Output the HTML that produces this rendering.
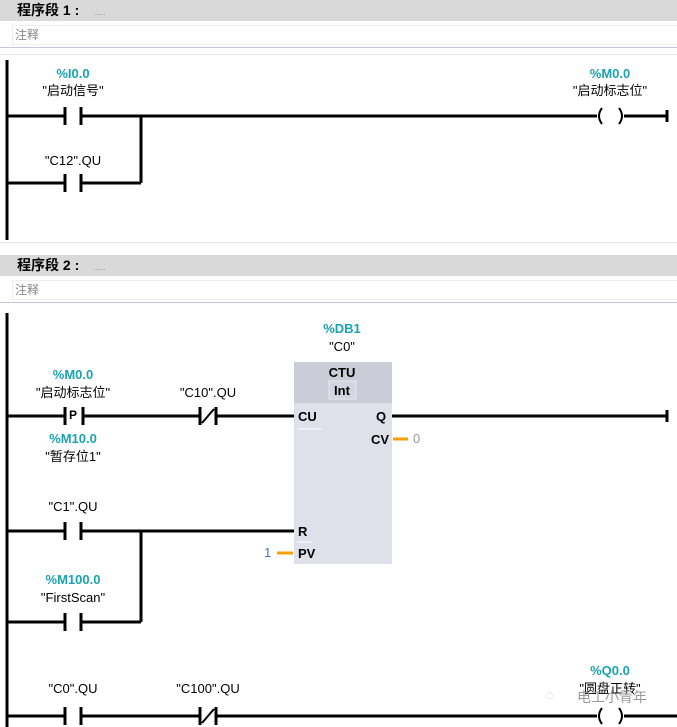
<!DOCTYPE html>
<html><head><meta charset="utf-8"><style>
body{margin:0;width:677px;height:727px;overflow:hidden;background:#fff;font-family:"Liberation Sans","Noto Sans CJK SC",sans-serif;position:relative}
.t{position:absolute;font-size:13px;color:#000;white-space:nowrap;transform:translateX(-50%);line-height:15px}
.a{position:absolute;font-size:13px;white-space:nowrap;line-height:15px}
.c{color:#1aa3b0;font-weight:bold}
.hd{position:absolute;left:0;width:677px;height:21px;background:#d9d9d9;font-size:14px;font-weight:bold;line-height:21px}
.cm{position:absolute;left:12px;width:665px;height:18px;border:1px solid #eee;border-right:none;font-size:12px;color:#888;line-height:18px;padding-left:2px}
</style></head><body>
<div class="hd" style="top:0"><span style="margin-left:17px">程序段 1 :</span><span style="margin-left:14px;color:#999;font-weight:normal;font-size:9px">.....</span></div>
<div class="cm" style="top:25px">注释</div>
<div style="position:absolute;left:0;top:47px;width:677px;height:1px;background:#c8c4e0"></div>
<div style="position:absolute;left:0;top:54px;width:677px;height:1px;background:#e6e6e6"></div>
<div style="position:absolute;left:0;top:242px;width:677px;height:1px;background:#e6e6e6"></div>
<div class="hd" style="top:255px"><span style="margin-left:17px">程序段 2 :</span><span style="margin-left:14px;color:#999;font-weight:normal;font-size:9px">.....</span></div>
<div class="cm" style="top:280px">注释</div>
<div style="position:absolute;left:0;top:302px;width:677px;height:1px;background:#c8c4e0"></div>

<svg width="677" height="727" style="position:absolute;left:0;top:0" xmlns="http://www.w3.org/2000/svg">
<g stroke="#000" stroke-width="3" fill="none">
<line x1="7" y1="60" x2="7" y2="240"/>
<line x1="7" y1="116" x2="65" y2="116"/><line x1="82" y1="116" x2="597" y2="116"/>
<line x1="7" y1="183" x2="65" y2="183"/><line x1="82" y1="183" x2="141" y2="183"/><line x1="141" y1="183" x2="141" y2="115"/>
<line x1="65" y1="107" x2="65" y2="125"/><line x1="81" y1="107" x2="81" y2="125"/>
<line x1="65" y1="174" x2="65" y2="192"/><line x1="81" y1="174" x2="81" y2="192"/>
<line x1="624" y1="116" x2="667" y2="116"/><line x1="667" y1="110" x2="667" y2="122"/>
<line x1="7" y1="313" x2="7" y2="727"/>
<line x1="7" y1="416" x2="65" y2="416"/><line x1="83" y1="416" x2="200" y2="416"/><line x1="217" y1="416" x2="294" y2="416"/>
<line x1="65" y1="407" x2="65" y2="425"/><line x1="83" y1="407" x2="83" y2="425"/>
<line x1="200" y1="407" x2="200" y2="425"/><line x1="216" y1="407" x2="216" y2="425"/>
<line x1="392" y1="416" x2="667" y2="416"/><line x1="667" y1="410" x2="667" y2="422"/>
<line x1="7" y1="531" x2="65" y2="531"/><line x1="82" y1="531" x2="294" y2="531"/>
<line x1="65" y1="522" x2="65" y2="540"/><line x1="81" y1="522" x2="81" y2="540"/>
<line x1="7" y1="622" x2="65" y2="622"/><line x1="82" y1="622" x2="141" y2="622"/><line x1="141" y1="622" x2="141" y2="530"/>
<line x1="65" y1="613" x2="65" y2="631"/><line x1="81" y1="613" x2="81" y2="631"/>
<line x1="7" y1="716" x2="65" y2="716"/><line x1="82" y1="716" x2="200" y2="716"/><line x1="217" y1="716" x2="597" y2="716"/>
<line x1="65" y1="707" x2="65" y2="725"/><line x1="81" y1="707" x2="81" y2="725"/>
<line x1="200" y1="707" x2="200" y2="725"/><line x1="216" y1="707" x2="216" y2="725"/>
<line x1="624" y1="716" x2="677" y2="716"/>
</g>
<g stroke="#000" stroke-width="2" fill="none">
<line x1="202" y1="423" x2="214" y2="409"/><line x1="202" y1="723" x2="214" y2="709"/>
<path d="M602 108 Q596 116 602 124"/><path d="M619 108 Q625 116 619 124"/>
<path d="M602 708 Q596 716 602 724"/><path d="M619 708 Q625 716 619 724"/>
</g>
<rect x="294" y="362" width="98" height="202" fill="#dfe0ea"/>
<rect x="294" y="362" width="98" height="41" fill="#cbccd8"/>
<rect x="329" y="381" width="27" height="18" fill="#d4d5e0" stroke="#e8e8ee"/>
<line x1="298" y1="429" x2="322" y2="429" stroke="#fff"/>
<line x1="298" y1="542" x2="312" y2="542" stroke="#fff"/>
<g stroke="#f5a000" stroke-width="3"><line x1="393" y1="439" x2="408" y2="439"/><line x1="277" y1="553" x2="293" y2="553"/></g>
</svg>

<div class="t c" style="left:73px;top:66px">%I0.0</div>
<div class="t" style="left:73px;top:83px">"启动信号"</div>
<div class="t" style="left:73px;top:153px">"C12".QU</div>
<div class="t c" style="left:610px;top:66px">%M0.0</div>
<div class="t" style="left:610px;top:83px">"启动标志位"</div>

<div class="t c" style="left:342px;top:321px">%DB1</div>
<div class="t" style="left:342px;top:339px">"C0"</div>
<div class="t" style="left:342px;top:365px;font-weight:bold">CTU</div>
<div class="t" style="left:342px;top:383px;font-weight:bold">Int</div>
<div class="a" style="left:298px;top:409px;font-weight:bold">CU</div>
<div class="a" style="left:376px;top:409px;font-weight:bold">Q</div>
<div class="a" style="left:371px;top:432px;font-weight:bold">CV</div>
<div class="a" style="left:413px;top:431px;color:#999">0</div>
<div class="a" style="left:298px;top:524px;font-weight:bold">R</div>
<div class="a" style="left:298px;top:546px;font-weight:bold">PV</div>
<div class="a" style="left:264px;top:545px;color:#4a6fd0">1</div>

<div class="t c" style="left:73px;top:367px">%M0.0</div>
<div class="t" style="left:73px;top:385px">"启动标志位"</div>
<div class="a" style="left:69px;top:408px;font-weight:bold;font-size:12px">P</div>
<div class="t c" style="left:73px;top:431px">%M10.0</div>
<div class="t" style="left:73px;top:449px">"暂存位1"</div>
<div class="t" style="left:208px;top:385px">"C10".QU</div>
<div class="t" style="left:73px;top:499px">"C1".QU</div>
<div class="t c" style="left:73px;top:572px">%M100.0</div>
<div class="t" style="left:73px;top:590px">"FirstScan"</div>
<div class="t" style="left:73px;top:681px">"C0".QU</div>
<div class="t" style="left:208px;top:681px">"C100".QU</div>
<div class="t c" style="left:610px;top:663px">%Q0.0</div>
<div class="t" style="left:610px;top:681px">"圆盘正转"</div>
<div class="a" style="left:577px;top:690px;color:#999;font-size:14px">电工小青年</div>
<div class="a" style="left:545px;top:688px;color:#ccc;font-size:15px">◌</div>
</body></html>
